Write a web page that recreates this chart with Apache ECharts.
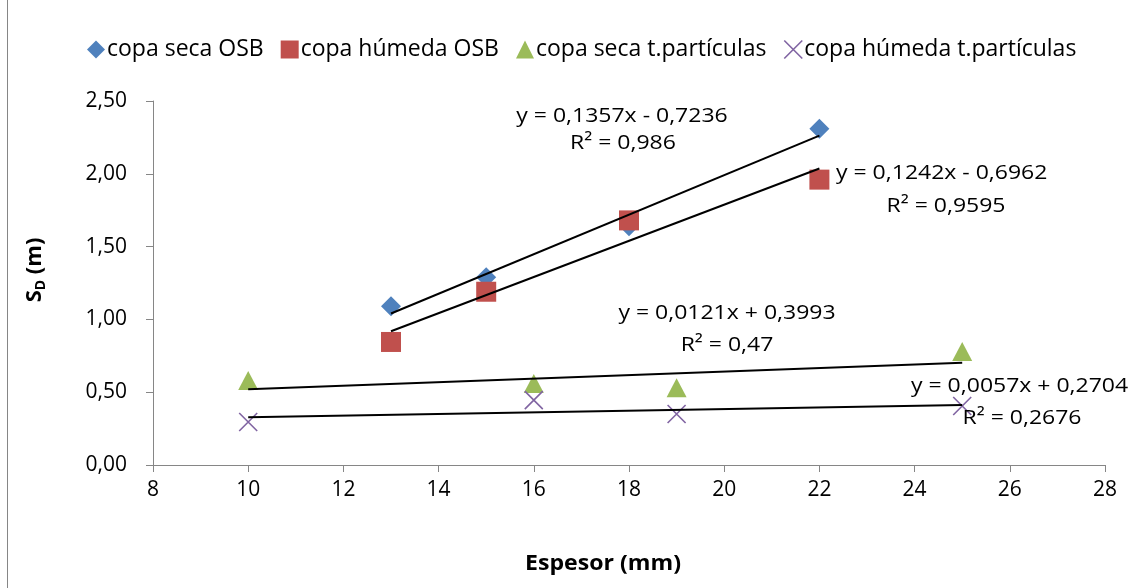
<!DOCTYPE html>
<html><head><meta charset="utf-8">
<script src="https://cdn.jsdelivr.net/npm/echarts@6/dist/echarts.min.js"></script>
<style>html,body{margin:0;padding:0;background:#fff}#c{width:1138px;height:588px}</style>
</head><body><div id="c"></div>
<script>
// ---- data ----
const seriesNames = ['copa seca OSB', 'copa húmeda OSB', 'copa seca t.partículas', 'copa húmeda t.partículas'];
const xOSB = [13, 15, 18, 22];
const xTP = [10, 16, 19, 25];
const secaOSB = [1.09, 1.29, 1.64, 2.31];
const humedaOSB = [0.845, 1.19, 1.68, 1.96];
const secaTP = [0.58, 0.56, 0.53, 0.78];
const humedaTP = [0.295, 0.446, 0.35, 0.405];
// trend line coefficients as printed on the chart
const slopes = [0.1357, 0.1242, 0.0121, 0.0057];
const intercepts = [-0.7236, -0.6962, 0.3993, 0.2704];
const r2Labels = ['0,986', '0,9595', '0,47', '0,2676'];
const xTicks = [8, 28, 2];
const yTicks = [0, 2.5, 0.5];

const colors = ['#4F81BD', '#C0504D', '#9BBB59', '#8064A2'];
const FONT = '"Open Sans"';
const xSym = 'path://M0,0L10,10M10,0L0,10';

const xs = [xOSB, xOSB, xTP, xTP];
const ys = [secaOSB, humedaOSB, secaTP, humedaTP];
const symbols = ['diamond', 'rect', 'triangle', xSym];
const symSizes = [[20, 20], [20, 20], [20, 19], [18, 18]];

function fmtEq(i) {
  const s = slopes[i].toString().replace('.', ',');
  const b = intercepts[i];
  const sign = b < 0 ? '-' : '+';
  return 'y = ' + s + 'x ' + sign + ' ' + Math.abs(b).toString().replace('.', ',');
}

const series = [];
for (let i = 0; i < 4; i++) {
  const isX = i === 3;
  series.push({
    name: seriesNames[i], type: 'scatter', z: 3,
    symbol: symbols[i], symbolSize: symSizes[i],
    itemStyle: isX ? { color: 'rgba(0,0,0,0)', borderColor: colors[i], borderWidth: 1.6, opacity: 1 } : { color: colors[i], opacity: 1 },
    data: xs[i].map((x, k) => [x, ys[i][k]])
  });
}
for (let i = 0; i < 4; i++) {
  const x0 = Math.min(...xs[i]), x1 = Math.max(...xs[i]);
  series.push({
    name: 'trend' + i, type: 'line', z: 4, symbol: 'none', silent: true,
    lineStyle: { color: '#000', width: 2 },
    data: [[x0, slopes[i] * x0 + intercepts[i]], [x1, slopes[i] * x1 + intercepts[i]]]
  });
}

// [eq x, eq y, r2 x, r2 y, eq align]
const eqPos = [
  [622, 116, 623, 143, 'center'],
  [836, 173, 946, 206, 'left'],
  [727, 313, 727, 345, 'center'],
  [911, 386, 1022, 418, 'left']
];
const graphics = [
  { type: 'line', shape: { x1: 7.5, y1: 0, x2: 7.5, y2: 588 }, style: { stroke: '#868686', lineWidth: 1 } },
  { type: 'text', x: 35, y: 270, rotation: Math.PI / 2,
    style: { text: '{a|S}{b|D}{a| (m)}', align: 'center', verticalAlign: 'middle',
      rich: { a: { font: 'bold 22px ' + FONT, fill: '#000' }, b: { font: 'bold 14px ' + FONT, fill: '#000', padding: [12, 0, 0, 0] } } } },
  { type: 'text', x: 603, y: 564, scaleX: 1.05,
    style: { text: 'Espesor (mm)', font: 'bold 22px ' + FONT, fill: '#000', align: 'center', verticalAlign: 'middle' } }
];
for (let i = 0; i < 4; i++) {
  const p = eqPos[i];
  graphics.push({ type: 'text', z: 10, x: p[0], y: p[1], scaleX: 1.15, style: { text: fmtEq(i), font: '20px ' + FONT, fill: '#000', align: p[4], verticalAlign: 'middle' } });
  graphics.push({ type: 'text', z: 10, x: p[2], y: p[3], scaleX: 1.15, style: { text: 'R² = ' + r2Labels[i], font: '20px ' + FONT, fill: '#000', align: 'center', verticalAlign: 'middle' } });
}

const chart = echarts.init(document.getElementById('c'));
chart.setOption({
  animation: false,
  color: colors,
  textStyle: { fontFamily: FONT },
  grid: { left: 153, right: 33, top: 101, bottom: 123, containLabel: false },
  legend: {
    data: seriesNames.map((n, i) => ({ name: n, icon: symbols[i], itemStyle: i === 3 ? { color: 'rgba(0,0,0,0)', borderColor: colors[3], borderWidth: 1.6 } : undefined })),
    left: 82, top: 33, itemWidth: 18, itemHeight: 18, itemGap: 17,
    textStyle: { fontSize: 23, color: '#000', fontFamily: FONT, padding: [0, 0, 0, -3] }
  },
  xAxis: {
    type: 'value', min: xTicks[0], max: xTicks[1], interval: xTicks[2],
    splitLine: { show: false },
    axisLine: { lineStyle: { color: '#868686', width: 1 } },
    axisTick: { show: true, length: 7, lineStyle: { color: '#868686' } },
    axisLabel: { fontSize: 21, color: '#000', margin: 15, fontFamily: FONT }
  },
  yAxis: {
    type: 'value', min: yTicks[0], max: yTicks[1], interval: yTicks[2],
    splitLine: { show: false },
    axisLine: { show: true, lineStyle: { color: '#868686', width: 1 } },
    axisTick: { show: true, length: 7, lineStyle: { color: '#868686' } },
    axisLabel: { fontSize: 21, color: '#000', margin: 26, fontFamily: FONT, formatter: v => v.toFixed(2).replace('.', ',') }
  },
  series: series,
  graphic: graphics
});
</script></body></html>
